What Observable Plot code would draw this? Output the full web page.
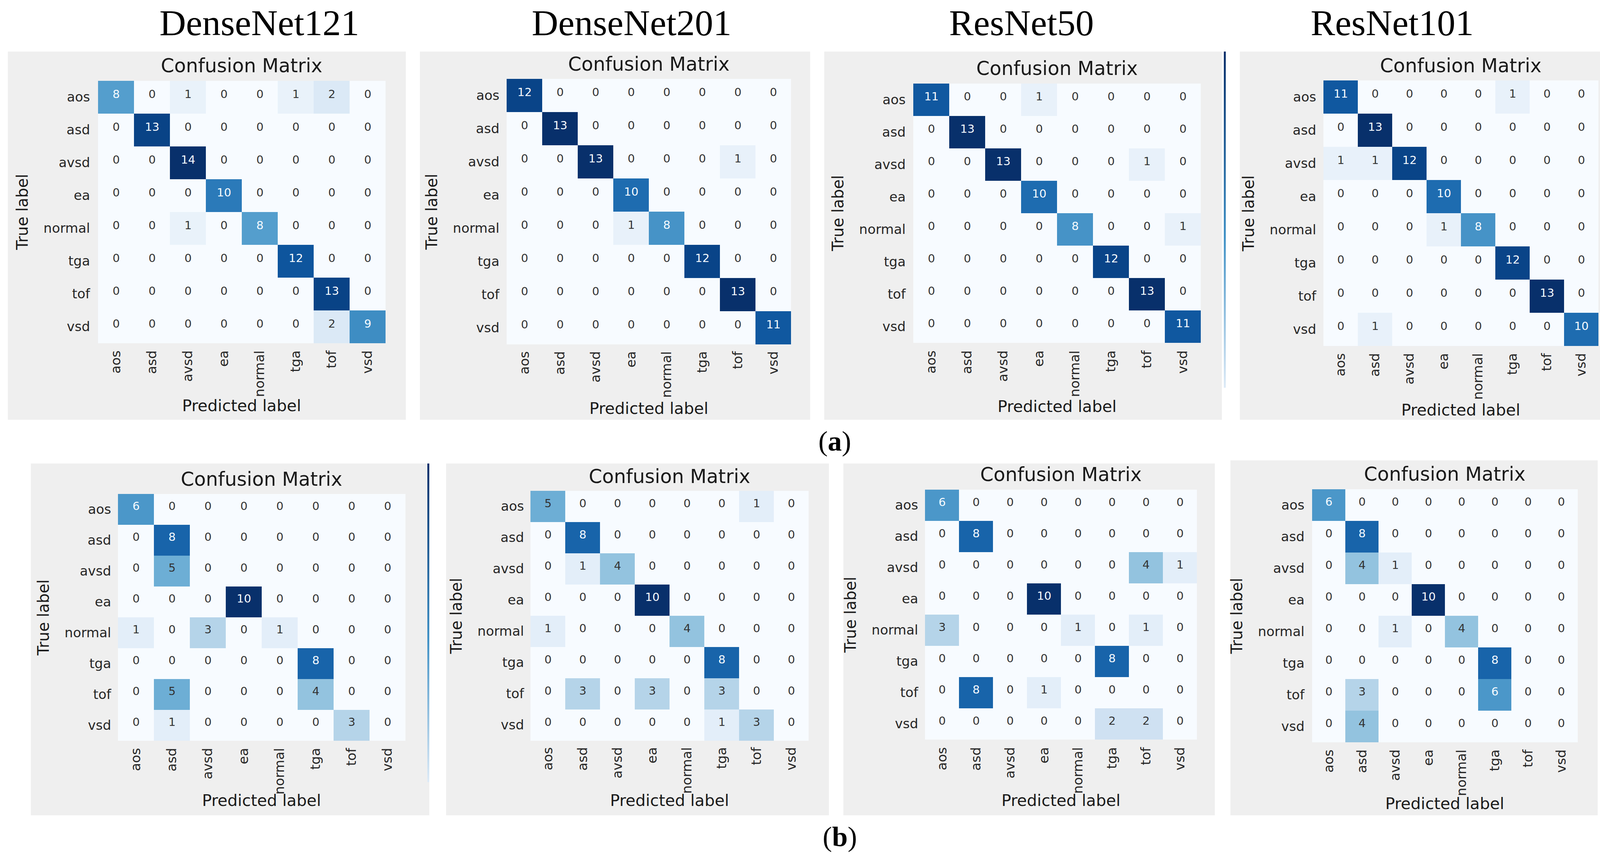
<!DOCTYPE html>
<html>
<head>
<meta charset="utf-8">
<script src="https://cdn.jsdelivr.net/npm/d3@7"></script>
<script src="https://cdn.jsdelivr.net/npm/@observablehq/plot@0.6"></script>
<style>
  html, body { margin: 0; padding: 0; background: #ffffff; overflow: hidden; }
  #page { position: relative; width: 4163px; height: 2205px; background: #ffffff; overflow: hidden; }
  .panel { position: absolute; background: #efefef; }
  .cbar { position: absolute; width: 5px; background: linear-gradient(#08306b, #4292c6 55%, #deebf7); }
  #overlay { position: absolute; left: 0; top: 0; pointer-events: none; }
</style>
</head>
<body>
<div id="page"></div>
<script>
// ---------- data ----------
const classes = ["aos", "asd", "avsd", "ea", "normal", "tga", "tof", "vsd"];
const models = ["DenseNet121", "DenseNet201", "ResNet50", "ResNet101"];
const rowLabels = ["(a)", "(b)"];
const panelTitle = "Confusion Matrix";
const xLabel = "Predicted label";
const yLabel = "True label";

// (a) row — rows: true label, columns: predicted label
const denseNet121A = [
  [8, 0, 1, 0, 0, 1, 2, 0],
  [0, 13, 0, 0, 0, 0, 0, 0],
  [0, 0, 14, 0, 0, 0, 0, 0],
  [0, 0, 0, 10, 0, 0, 0, 0],
  [0, 0, 1, 0, 8, 0, 0, 0],
  [0, 0, 0, 0, 0, 12, 0, 0],
  [0, 0, 0, 0, 0, 0, 13, 0],
  [0, 0, 0, 0, 0, 0, 2, 9]
];
const denseNet201A = [
  [12, 0, 0, 0, 0, 0, 0, 0],
  [0, 13, 0, 0, 0, 0, 0, 0],
  [0, 0, 13, 0, 0, 0, 1, 0],
  [0, 0, 0, 10, 0, 0, 0, 0],
  [0, 0, 0, 1, 8, 0, 0, 0],
  [0, 0, 0, 0, 0, 12, 0, 0],
  [0, 0, 0, 0, 0, 0, 13, 0],
  [0, 0, 0, 0, 0, 0, 0, 11]
];
const resNet50A = [
  [11, 0, 0, 1, 0, 0, 0, 0],
  [0, 13, 0, 0, 0, 0, 0, 0],
  [0, 0, 13, 0, 0, 0, 1, 0],
  [0, 0, 0, 10, 0, 0, 0, 0],
  [0, 0, 0, 0, 8, 0, 0, 1],
  [0, 0, 0, 0, 0, 12, 0, 0],
  [0, 0, 0, 0, 0, 0, 13, 0],
  [0, 0, 0, 0, 0, 0, 0, 11]
];
const resNet101A = [
  [11, 0, 0, 0, 0, 1, 0, 0],
  [0, 13, 0, 0, 0, 0, 0, 0],
  [1, 1, 12, 0, 0, 0, 0, 0],
  [0, 0, 0, 10, 0, 0, 0, 0],
  [0, 0, 0, 1, 8, 0, 0, 0],
  [0, 0, 0, 0, 0, 12, 0, 0],
  [0, 0, 0, 0, 0, 0, 13, 0],
  [0, 1, 0, 0, 0, 0, 0, 10]
];
// (b) row
const denseNet121B = [
  [6, 0, 0, 0, 0, 0, 0, 0],
  [0, 8, 0, 0, 0, 0, 0, 0],
  [0, 5, 0, 0, 0, 0, 0, 0],
  [0, 0, 0, 10, 0, 0, 0, 0],
  [1, 0, 3, 0, 1, 0, 0, 0],
  [0, 0, 0, 0, 0, 8, 0, 0],
  [0, 5, 0, 0, 0, 4, 0, 0],
  [0, 1, 0, 0, 0, 0, 3, 0]
];
const denseNet201B = [
  [5, 0, 0, 0, 0, 0, 1, 0],
  [0, 8, 0, 0, 0, 0, 0, 0],
  [0, 1, 4, 0, 0, 0, 0, 0],
  [0, 0, 0, 10, 0, 0, 0, 0],
  [1, 0, 0, 0, 4, 0, 0, 0],
  [0, 0, 0, 0, 0, 8, 0, 0],
  [0, 3, 0, 3, 0, 3, 0, 0],
  [0, 0, 0, 0, 0, 1, 3, 0]
];
const resNet50B = [
  [6, 0, 0, 0, 0, 0, 0, 0],
  [0, 8, 0, 0, 0, 0, 0, 0],
  [0, 0, 0, 0, 0, 0, 4, 1],
  [0, 0, 0, 10, 0, 0, 0, 0],
  [3, 0, 0, 0, 1, 0, 1, 0],
  [0, 0, 0, 0, 0, 8, 0, 0],
  [0, 8, 0, 1, 0, 0, 0, 0],
  [0, 0, 0, 0, 0, 2, 2, 0]
];
const resNet101B = [
  [6, 0, 0, 0, 0, 0, 0, 0],
  [0, 8, 0, 0, 0, 0, 0, 0],
  [0, 4, 1, 0, 0, 0, 0, 0],
  [0, 0, 0, 10, 0, 0, 0, 0],
  [0, 0, 1, 0, 4, 0, 0, 0],
  [0, 0, 0, 0, 0, 8, 0, 0],
  [0, 3, 0, 0, 0, 6, 0, 0],
  [0, 4, 0, 0, 0, 0, 0, 0]
];

// ---------- layout (page pixels) ----------
// bg: panel box, hm: heatmap box, tb: title baseline, xb: x-label baseline
const layout = [
  {m: denseNet121A, bg: [20, 132, 1039, 1075], hm: [247, 204, 990, 881], tb: 185, xb: 1053},
  {m: denseNet201A, bg: [1075, 132, 2074, 1075], hm: [1295, 201, 2027, 883], tb: 181, xb: 1060},
  {m: resNet50A, bg: [2110, 132, 3128, 1075], hm: [2335, 210, 3077, 881], tb: 192, xb: 1055},
  {m: resNet101A, bg: [3174, 132, 4142, 1075], hm: [3386, 204, 4093, 888], tb: 185, xb: 1064},
  {m: denseNet121B, bg: [79, 1187, 1099, 2088], hm: [301, 1263, 1038, 1899], tb: 1244, xb: 2064},
  {m: denseNet201B, bg: [1142, 1187, 2122, 2088], hm: [1358, 1257, 2070, 1897], tb: 1237, xb: 2064},
  {m: resNet50B, bg: [2159, 1187, 3110, 2088], hm: [2367, 1251, 3065, 1897], tb: 1232, xb: 2064},
  {m: resNet101B, bg: [3150, 1179, 4090, 2088], hm: [3356, 1251, 4041, 1903], tb: 1231, xb: 2072}
];
const headerX = [664, 1617, 2615, 3564];
const rowLabelPos = [[2137, 1154], [2150, 2167]];

const page = document.getElementById("page");

function confusionPanel(spec) {
  const [bx0, by0, bx1, by1] = spec.bg;
  const [hx0, hy0, hx1, hy1] = spec.hm;
  const data = [];
  spec.m.forEach((row, i) => row.forEach((v, j) => data.push({t: classes[i], p: classes[j], v})));
  const max = d3.max(data, d => d.v);
  const thresh = max / 2;
  return Plot.plot({
    width: bx1 - bx0,
    height: by1 - by0,
    marginLeft: hx0 - bx0,
    marginTop: hy0 - by0,
    marginRight: bx1 - hx1,
    marginBottom: by1 - hy1,
    style: {background: "transparent", fontFamily: "DejaVu Sans", color: "#262626", overflow: "visible"},
    x: {domain: classes, padding: 0, axis: null},
    y: {domain: classes, padding: 0, axis: null},
    color: {type: "linear", scheme: "blues", domain: [0, max]},
    marks: [
      Plot.cell(data, {x: "p", y: "t", fill: "v"}),
      Plot.text(data.filter(d => d.v > thresh), {x: "p", y: "t", text: d => String(d.v), fill: "#f7fbff", fontSize: 29, dy: -8}),
      Plot.text(data.filter(d => d.v <= thresh), {x: "p", y: "t", text: d => String(d.v), fill: "#333333", fontSize: 29, dy: -8}),
      Plot.axisX({anchor: "bottom", tickRotate: -90, tickSize: 0, tickPadding: 16, fontSize: 34, label: null}),
      Plot.axisY({anchor: "left", tickSize: 0, tickPadding: 17, fontSize: 34, label: null})
    ]
  });
}

layout.forEach(spec => {
  const div = document.createElement("div");
  div.className = "panel";
  div.style.left = spec.bg[0] + "px";
  div.style.top = spec.bg[1] + "px";
  div.style.width = (spec.bg[2] - spec.bg[0]) + "px";
  div.style.height = (spec.bg[3] - spec.bg[1]) + "px";
  div.appendChild(confusionPanel(spec));
  page.appendChild(div);
});

// colorbar edges peeking at two panel borders
[[3133, 132, 993], [1094, 1187, 2003]].forEach(([x, y0, y1]) => {
  const c = document.createElement("div");
  c.className = "cbar";
  c.style.left = x + "px";
  c.style.top = y0 + "px";
  c.style.height = (y1 - y0) + "px";
  page.appendChild(c);
});

// text overlay: headers, panel titles, axis titles, row labels
const svgNS = "http://www.w3.org/2000/svg";
const overlay = document.createElementNS(svgNS, "svg");
overlay.setAttribute("id", "overlay");
overlay.setAttribute("width", 4163);
overlay.setAttribute("height", 2205);
function addText(str, x, y, attrs) {
  const t = document.createElementNS(svgNS, "text");
  t.setAttribute("x", x);
  t.setAttribute("y", y);
  t.setAttribute("text-anchor", "middle");
  for (const k in attrs) t.setAttribute(k, attrs[k]);
  t.textContent = str;
  overlay.appendChild(t);
  return t;
}
const serif = "Liberation Serif, Times New Roman, serif";
const sans = "DejaVu Sans, sans-serif";
models.forEach((name, i) => addText(name, headerX[i], 90, {"font-family": serif, "font-size": 94, fill: "#000"}));
layout.forEach(spec => {
  const [hx0, hy0, hx1, hy1] = spec.hm;
  const cx = (hx0 + hx1) / 2, cy = (hy0 + hy1) / 2;
  addText(panelTitle, cx, spec.tb, {"font-family": sans, "font-size": 49, fill: "#1a1a1a"});
  addText(xLabel, cx, spec.xb, {"font-family": sans, "font-size": 41, fill: "#1a1a1a"});
  const tx = hx0 - 190;
  addText(yLabel, 0, 0, {"font-family": sans, "font-size": 40, fill: "#1a1a1a",
    "dominant-baseline": "central", transform: `translate(${tx},${cy}) rotate(-90)`});
});
rowLabels.forEach((lab, i) => {
  const t = addText("", rowLabelPos[i][0], rowLabelPos[i][1], {"font-family": serif, "font-size": 72, fill: "#000"});
  const p1 = document.createElementNS(svgNS, "tspan"); p1.textContent = "(";
  const p2 = document.createElementNS(svgNS, "tspan"); p2.setAttribute("font-weight", "bold"); p2.textContent = lab.slice(1, -1);
  const p3 = document.createElementNS(svgNS, "tspan"); p3.textContent = ")";
  t.appendChild(p1); t.appendChild(p2); t.appendChild(p3);
});
page.appendChild(overlay);
</script>
</body>
</html>
